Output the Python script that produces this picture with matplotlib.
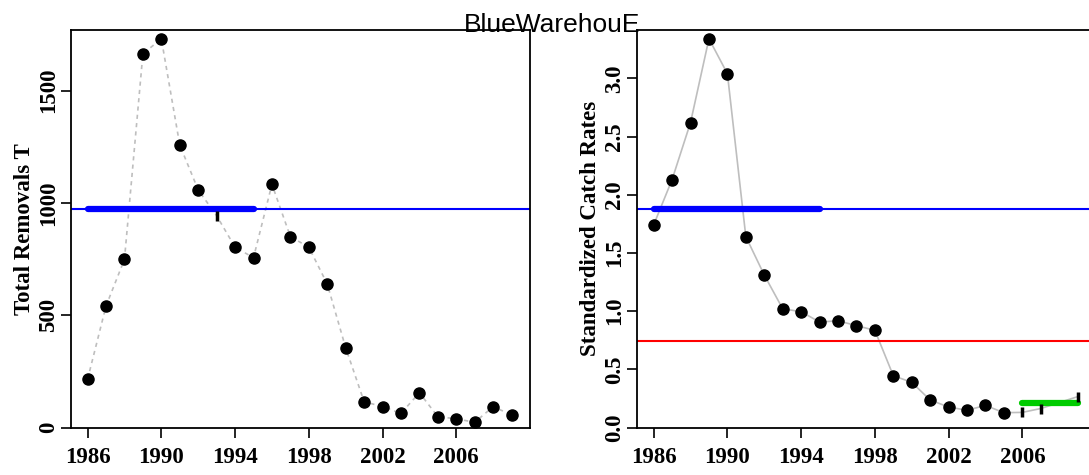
import numpy as np
import matplotlib.pyplot as plt

# total removals (t)
years = np.arange(1986, 2010)
removals = [215, 541, 749, 1664, 1731, 1258, 1058, 943, 803, 756, 1083, 850,
            803, 639, 355, 115, 93, 63, 155, 48, 39, 23, 93, 56]
removal_bar_years = [1993]
removal_ref = 973

# standardized catch rates
cpue_years = [1986, 1987, 1988, 1989, 1990, 1991, 1992, 1993, 1994, 1995, 1996,
              1997, 1998, 1999, 2000, 2001, 2002, 2003, 2004, 2005, 2006, 2007, 2009]
cpue = [1.74, 2.13, 2.62, 3.34, 3.04, 1.64, 1.31, 1.02, 0.995, 0.906, 0.917,
        0.875, 0.835, 0.445, 0.388, 0.236, 0.176, 0.148, 0.19, 0.127, 0.13, 0.163, 0.265]
cpue_bar_years = [2006, 2007, 2009]
cpue_ref = 1.877
cpue_limit = 0.746
cpue_recent = 0.208

ref_period = (1986, 1995)
recent_period = (2006, 2009)
xticks = [1986, 1990, 1994, 1998, 2002, 2006]

tick_font = dict(family='Liberation Serif', weight='bold', size=16.5)

fig = plt.figure(figsize=(10.89, 4.75), dpi=100)
ax1 = fig.add_axes([0.0652, 0.1, 0.4215, 0.8368])
ax2 = fig.add_axes([0.585, 0.1, 0.4215, 0.8368])


def style_axes(ax, ylabel):
    ax.set_xlim(1985.1, 2010)
    ax.set_xticks(xticks)
    ax.tick_params(direction='out', length=7, width=1.2, top=False, right=False)
    ax.tick_params(axis='x', pad=7)
    ax.tick_params(axis='y', pad=1.5)
    for lab in ax.get_xticklabels() + ax.get_yticklabels():
        lab.set_fontfamily('Liberation Serif')
        lab.set_fontweight('bold')
        lab.set_fontsize(16.5)
    for lab in ax.get_yticklabels():
        lab.set_rotation(90)
        lab.set_va('center')
    for s in ax.spines.values():
        s.set_linewidth(1.3)
    ax.set_ylabel(ylabel, fontdict=tick_font, labelpad=2)


# left panel
d = [v for y, v in zip(years, removals) if y not in removal_bar_years]
dy = [y for y in years if y not in removal_bar_years]
b = [v for y, v in zip(years, removals) if y in removal_bar_years]
ax1.plot(years, removals, color='#BEBEBE', lw=1.2, ls=(0, (2.5, 2.5)), zorder=1)
ax1.plot(dy, d, 'o', color='black', ms=8, zorder=3)
ax1.plot(removal_bar_years, b, '|', color='black', ms=7.5, mew=2.5, zorder=3)
ax1.axhline(removal_ref, color='#0000FF', lw=1.5, zorder=2)
ax1.plot(ref_period, [removal_ref, removal_ref], color='#0000FF', lw=4.5,
         solid_capstyle='round', zorder=2)
ax1.set_ylim(0, 1770)
ax1.set_yticks([0, 500, 1000, 1500])
style_axes(ax1, 'Total Removals T')

# right panel
d = [v for y, v in zip(cpue_years, cpue) if y not in cpue_bar_years]
dy = [y for y in cpue_years if y not in cpue_bar_years]
b = [v for y, v in zip(cpue_years, cpue) if y in cpue_bar_years]
ax2.plot(cpue_years, cpue, color='#BEBEBE', lw=1.2, zorder=1)
ax2.plot(dy, d, 'o', color='black', ms=8, zorder=3)
ax2.plot(cpue_bar_years, b, '|', color='black', ms=7.5, mew=2.5, zorder=3)
ax2.axhline(cpue_ref, color='#0000FF', lw=1.5, zorder=2)
ax2.plot(ref_period, [cpue_ref, cpue_ref], color='#0000FF', lw=4.5,
         solid_capstyle='round', zorder=2)
ax2.axhline(cpue_limit, color='#FF0000', lw=1.5, zorder=2)
ax2.plot(recent_period, [cpue_recent, cpue_recent], color='#00CC00', lw=4.5,
         solid_capstyle='round', zorder=2)
ax2.set_ylim(0, 3.415)
ax2.set_yticks([0, 0.5, 1.0, 1.5, 2.0, 2.5, 3.0])
ax2.set_yticklabels(['0.0', '0.5', '1.0', '1.5', '2.0', '2.5', '3.0'])
style_axes(ax2, 'Standardized Catch Rates')

fig.text(0.5074, 0.933, 'BlueWarehouE', ha='center', va='baseline',
         family='Liberation Sans', fontsize=19)

fig.savefig('out.png', dpi=100)
